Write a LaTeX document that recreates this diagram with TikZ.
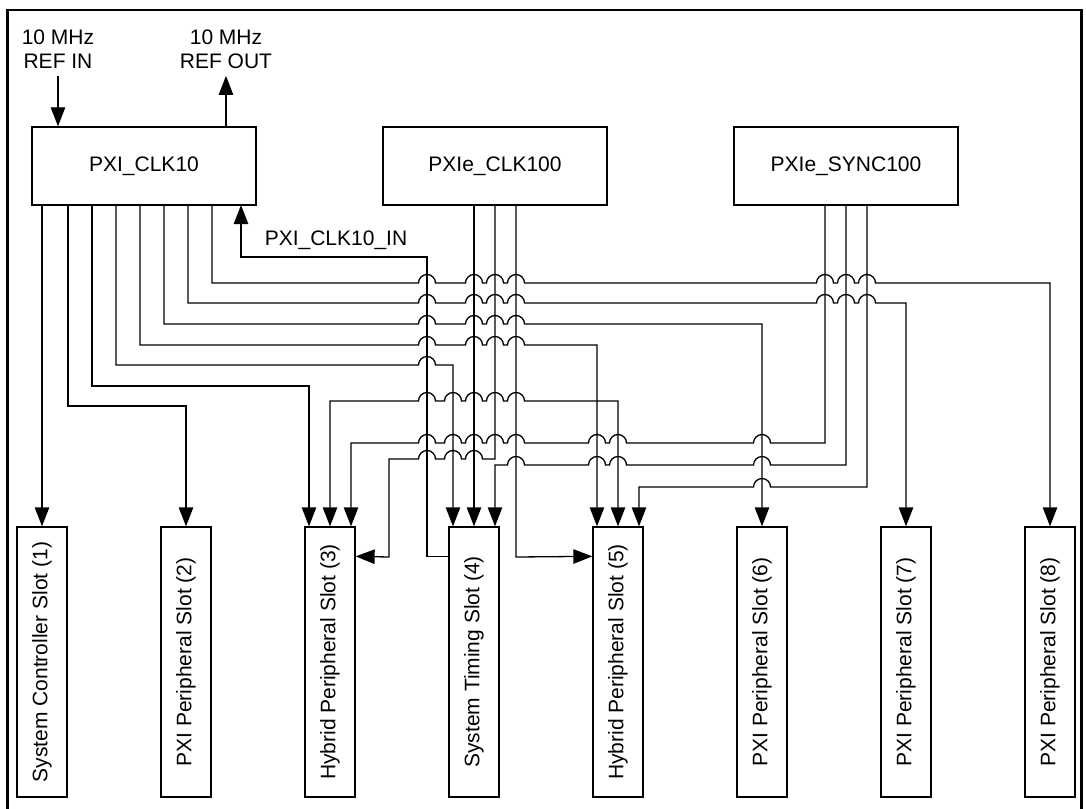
\documentclass[tikz,border=0pt]{standalone}
\usepackage{fontspec}
\setmainfont{Liberation Sans}
\usetikzlibrary{arrows.meta}

% line hops over a crossing wire (going right / going left)
\newcommand{\hopr}[2]{-- ({#1-8.5},#2) arc[start angle=180, end angle=0, radius=4.25pt]}
\newcommand{\hopl}[2]{-- ({#1+8.5},#2) arc[start angle=0, end angle=180, radius=4.25pt]}

\begin{document}
\begin{tikzpicture}[x=0.5pt, y=-0.5pt,
  font=\fontsize{10.5}{12}\selectfont,
  wire/.style={line width=0.65pt},
  arrow/.style={wire, -{Triangle[length=9.5pt, width=7.2pt]}},
  biarrow/.style={wire, {Triangle[length=9.5pt, width=7.2pt]}-{Triangle[length=9.5pt, width=7.2pt]}},
  clock/.style={draw, line width=0.65pt, minimum width=112pt, minimum height=39pt, inner sep=0pt},
  slot/.style={draw, line width=0.65pt, minimum width=25pt, minimum height=135pt, inner sep=0pt},
  lbl/.style={align=center, inner sep=3.5pt}
]
  \useasboundingbox (0,0) rectangle (1086,808);

  % Frame
  \draw[line width=1.25pt] (7.5,815) -- (7.5,10) -- (1081.5,10) -- (1081.5,815);

  % Clock sources
  \node[clock] (clk10) at (144,166) {PXI\_CLK10};
  \node[clock] (clk100) at (495,166) {PXIe\_CLK100};
  \node[clock] (sync100) at (846,166) {PXIe\_SYNC100};

  % Slots
  \foreach \i/\txt in {1/System Controller Slot (1), 2/PXI Peripheral Slot (2),
      3/Hybrid Peripheral Slot (3), 4/System Timing Slot (4),
      5/Hybrid Peripheral Slot (5), 6/PXI Peripheral Slot (6),
      7/PXI Peripheral Slot (7), 8/PXI Peripheral Slot (8)}
    \node[slot] (s\i) at ({42+144*(\i-1)},662) {\rotatebox{90}{\txt}};

  % Reference in/out
  \node[lbl] (refin) at (58,49) {10 MHz\\REF IN};
  \node[lbl] (refout) at (226,49) {10 MHz\\REF OUT};
  \draw[arrow] (refin.south) -- (refin.south |- clk10.north);
  \draw[arrow] (refout.south |- clk10.north) -- (refout.south);

  % Taps
  \coordinate (k1) at (s1.north |- clk10.south);
  \foreach \i in {2,...,8}
    \coordinate (k\i) at ({20+24*\i},205);
  \coordinate (kin) at (241,205);
  \coordinate (c1) at ([xshift=-10.5pt]clk100.south);
  \coordinate (c2) at (clk100.south);
  \coordinate (c3) at ([xshift=10.5pt]clk100.south);
  \coordinate (y1) at ([xshift=-10.5pt]sync100.south);
  \coordinate (y2) at (sync100.south);
  \coordinate (y3) at ([xshift=10.5pt]sync100.south);

  % PXI_CLK10 to every slot
  \draw[arrow] (k1) -- (s1.north);
  \draw[arrow] (k2) |- (186,406) -- (s2.north);
  \draw[arrow] (k3) |- (309,386) -- ([xshift=-10.5pt]s3.north);
  \draw[arrow] (k4) -- (116,365) \hopr{427}{365} -- (453,365) -- ([xshift=-10.5pt]s4.north);
  \draw[arrow] (k5) -- (140,345) \hopr{427}{345} \hopr{474}{345} \hopr{495}{345} \hopr{516}{345}
    -- (597,345) -- ([xshift=-10.5pt]s5.north);
  \draw[arrow] (k6) -- (164,324) \hopr{427}{324} \hopr{474}{324} \hopr{495}{324} \hopr{516}{324}
    -- (762,324) -- (s6.north);
  \draw[arrow] (k7) -- (188,303) \hopr{427}{303} \hopr{474}{303} \hopr{495}{303} \hopr{516}{303}
    \hopr{825}{303} \hopr{846}{303} \hopr{867}{303} -- (906,303) -- (s7.north);
  \draw[arrow] (k8) -- (212,283) \hopr{427}{283} \hopr{474}{283} \hopr{495}{283} \hopr{516}{283}
    \hopr{825}{283} \hopr{846}{283} \hopr{867}{283} -- (1050,283) -- (s8.north);

  % PXI_CLK10_IN from the timing slot
  \draw[arrow] ([yshift=-15pt]s4.north west) -| (427,257) -| (kin);
  \node (clkin) at (336,240) {PXI\_CLK10\_IN};

  % PXIe_CLK100
  \draw[arrow] (c1) -- (s4.north);
  \draw[arrow] (c2) -- (495,459) \hopl{474}{459} \hopl{453}{459} \hopl{427}{459}
    -- (389,459) -- (389,557) -- ([yshift=-15pt]s3.north east);
  \draw[arrow] (c3) -- (516,557) -- ([yshift=-15pt]s5.north west);
  \draw[biarrow] (s3.north) -- (330,401) \hopr{427}{401} \hopr{453}{401} \hopr{474}{401}
    \hopr{495}{401} \hopr{516}{401} -- (618,401) -- (s5.north);

  % PXIe_SYNC100
  \draw[arrow] (y1) -- (825,443) \hopl{762}{443} \hopl{618}{443} \hopl{597}{443} \hopl{516}{443}
    \hopl{495}{443} \hopl{474}{443} \hopl{453}{443} \hopl{427}{443}
    -- (351,443) -- ([xshift=10.5pt]s3.north);
  \draw[arrow] (y2) -- (846,465) \hopl{762}{465} \hopl{618}{465} \hopl{597}{465} \hopl{516}{465}
    -- (495,465) -- ([xshift=10.5pt]s4.north);
  \draw[arrow] (y3) -- (867,487) \hopl{762}{487} -- (639,487) -- ([xshift=10.5pt]s5.north);

\end{tikzpicture}
\end{document}
